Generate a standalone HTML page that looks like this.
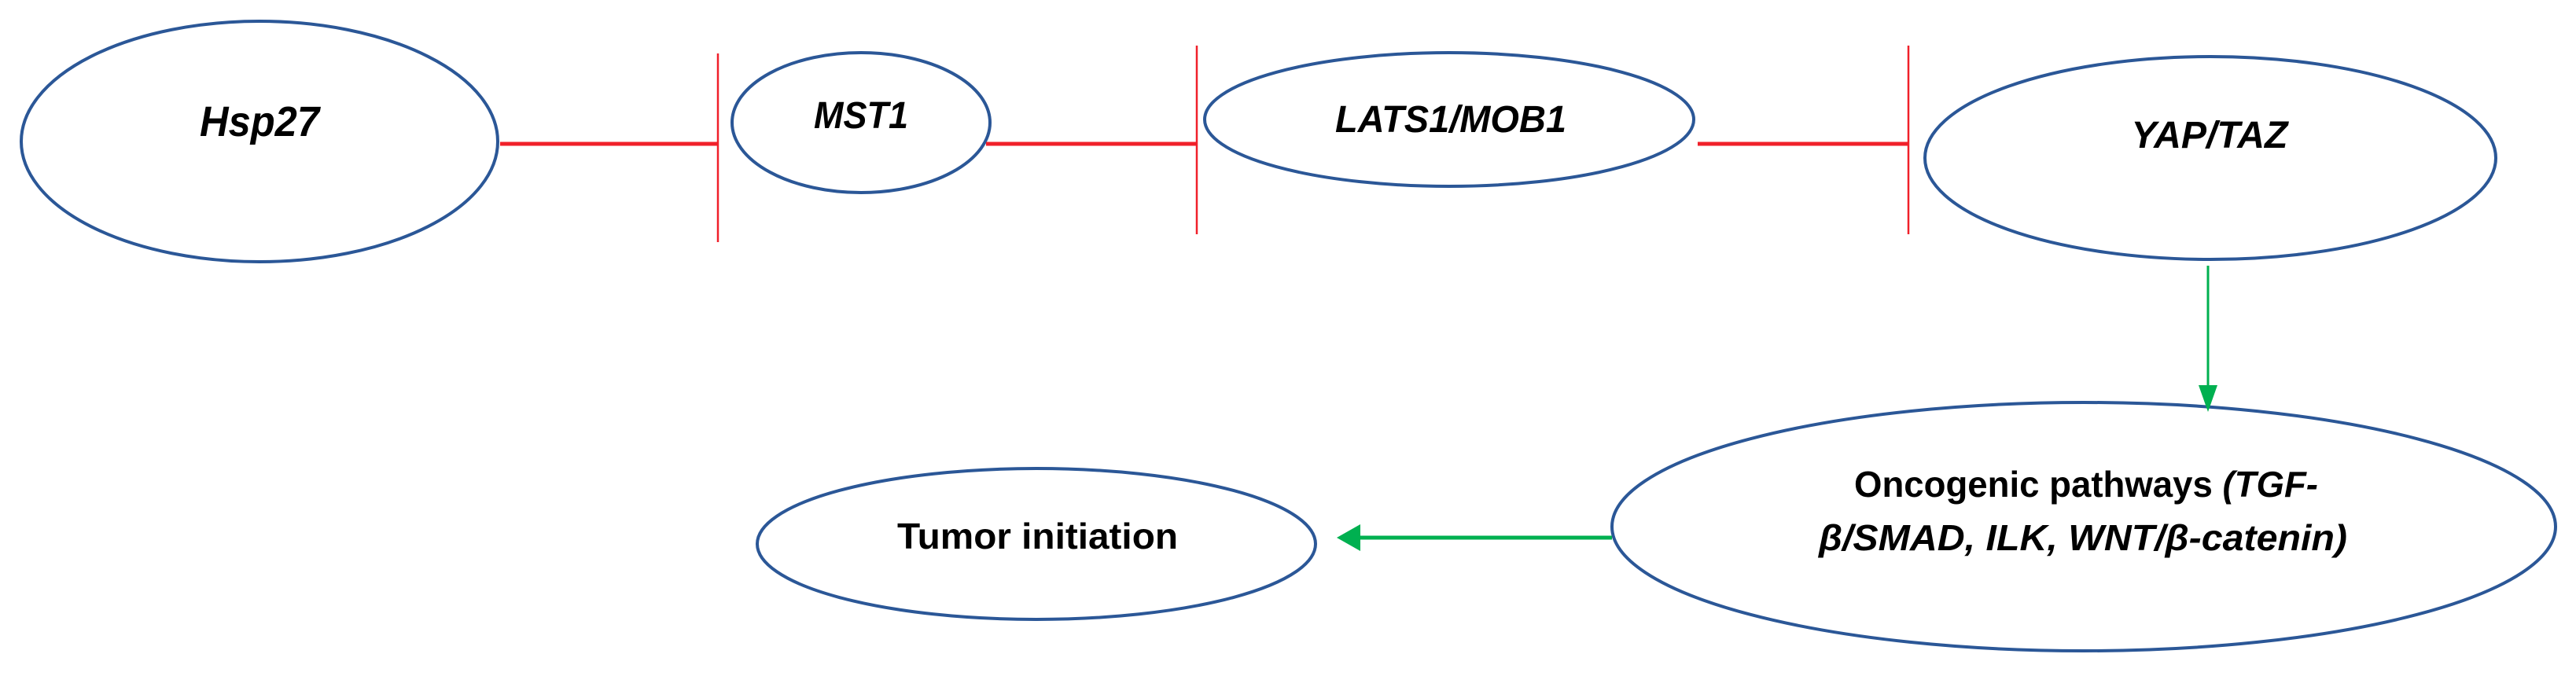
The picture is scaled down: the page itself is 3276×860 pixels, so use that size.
<!DOCTYPE html>
<html><head><meta charset="utf-8"><style>
html,body{margin:0;padding:0;background:#fff;}
svg{display:block;}
text{font-family:"Liberation Sans",sans-serif;font-weight:bold;fill:#000;}
</style></head><body>
<svg width="3276" height="860" viewBox="0 0 3276 860" xmlns="http://www.w3.org/2000/svg">
<g fill="none" stroke="#2B5797" stroke-width="4">
<ellipse cx="330" cy="180" rx="303" ry="153"/>
<ellipse cx="1095" cy="156" rx="164" ry="89"/>
<ellipse cx="1843" cy="152" rx="311" ry="85"/>
<ellipse cx="2811" cy="201" rx="363" ry="129"/>
<ellipse cx="2650" cy="670" rx="600" ry="158"/>
<ellipse cx="1318" cy="692" rx="355" ry="96"/>
</g>
<g stroke="#F0202A" fill="none">
<line x1="636" y1="183" x2="912" y2="183" stroke-width="5"/>
<line x1="913" y1="68" x2="913" y2="308" stroke-width="2.5"/>
<line x1="1254" y1="183" x2="1521" y2="183" stroke-width="5"/>
<line x1="1522" y1="58" x2="1522" y2="298" stroke-width="2.5"/>
<line x1="2159" y1="183" x2="2426" y2="183" stroke-width="5"/>
<line x1="2427" y1="58" x2="2427" y2="298" stroke-width="2.5"/>
</g>
<g stroke="#00B050" fill="#00B050">
<line x1="2808" y1="338" x2="2808" y2="495" stroke-width="3"/>
<polygon points="2796,490 2820,490 2808,524" stroke="none"/>
<line x1="2050" y1="684" x2="1725" y2="684" stroke-width="5"/>
<polygon points="1730,667 1730,701 1700,684" stroke="none"/>
</g>
<text x="330" y="173" font-size="54" font-style="italic" text-anchor="middle" textLength="152" lengthAdjust="spacingAndGlyphs">Hsp27</text>
<text x="1095" y="163" font-size="48" font-style="italic" text-anchor="middle" textLength="120" lengthAdjust="spacingAndGlyphs">MST1</text>
<text x="1845" y="168" font-size="48" font-style="italic" text-anchor="middle" textLength="294" lengthAdjust="spacingAndGlyphs">LATS1/MOB1</text>
<text x="2810" y="188" font-size="48" font-style="italic" text-anchor="middle" textLength="199" lengthAdjust="spacingAndGlyphs">YAP/TAZ</text>
<text x="2358" y="632" font-size="46" textLength="590" lengthAdjust="spacingAndGlyphs">Oncogenic pathways <tspan font-style="italic">(TGF-</tspan></text>
<text x="2313" y="700" font-size="46" font-style="italic" textLength="672" lengthAdjust="spacingAndGlyphs">β/SMAD, ILK, WNT/β-catenin)</text>
<text x="1141" y="698" font-size="46" textLength="357" lengthAdjust="spacingAndGlyphs">Tumor initiation</text>
</svg>
</body></html>
